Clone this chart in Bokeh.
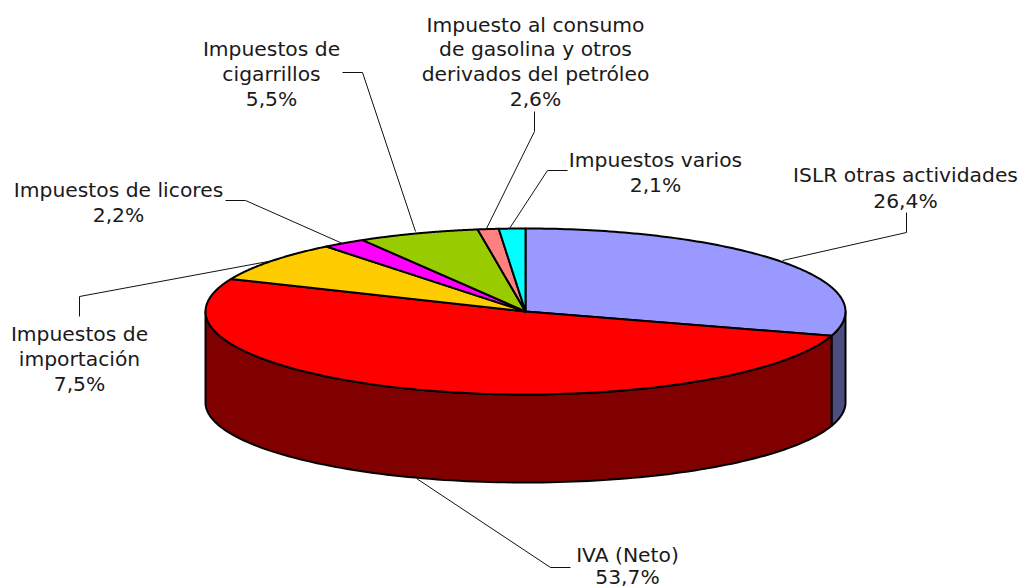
import numpy as np
from bokeh.plotting import figure
from bokeh.models import Range1d
from bokeh.core.properties import value
from bokeh.embed import file_html
from bokeh.resources import INLINE

names = ["ISLR otras actividades", "IVA (Neto)", "Impuestos de importación", "Impuestos de licores",
         "Impuestos de cigarrillos", "Impuesto al consumo de gasolina y otros derivados del petróleo",
         "Impuestos varios"]
shares = [26.4, 53.7, 7.5, 2.2, 5.5, 2.6, 2.1]
top_colors = ["#9999FF", "#FF0000", "#FFCC00", "#FF00FF", "#99CC00", "#FF8080", "#00FFFF"]
side_colors = ["#4D4D80", "#800000", "#806600", "#800080", "#4D6600", "#804040", "#008080"]

label_lines = [
    (["ISLR otras actividades", "26,4%"], 905, [174, 200]),
    (["IVA (Neto)", "53,7%"], 627, [554, 576]),
    (["Impuestos de", "importación", "7,5%"], 79, [333, 358, 383]),
    (["Impuestos de licores", "2,2%"], 118, [189, 214]),
    (["Impuestos de", "cigarrillos", "5,5%"], 271, [48, 73, 98]),
    (["Impuesto al consumo", "de gasolina y otros", "derivados del petróleo", "2,6%"], 535, [24, 48, 73, 98]),
    (["Impuestos varios", "2,1%"], 655, [159, 184]),
]
leaders = [
    ([906, 906, 782], [212, 232, 260]),
    ([416, 550, 570], [478, 567, 567]),
    ([79, 79, 273], [316, 296, 260]),
    ([225, 245, 342], [200, 200, 243]),
    ([342, 362, 415], [72, 72, 231]),
    ([534, 534, 486], [111, 131, 228]),
    ([567, 547, 509], [170, 170, 228]),
]

# 3-D projection of the pie
CX, CY, RX, RY = 525, 311, 320, 83
BOT_CY, BOT_RY = 402, 80
# projection of the cumulative share (%) onto the drawn ellipse angle (deg)
proj_pct = [0, 26.4, 80.1, 87.6, 89.8, 95.3, 97.9, 100]
proj_deg = [0, 107, 293, 321.5, 329.4, 351.4, 355.2, 360]


def ang(share):
    return np.interp(share, proj_pct, proj_deg)


def top_pt(t):
    r = np.radians(t)
    return CX + RX * np.sin(r), CY - RY * np.cos(r)


def bot_pt(t):
    r = np.radians(t)
    return CX + RX * np.sin(r), BOT_CY - BOT_RY * np.cos(r)


p = figure(width=1022, height=588, x_range=Range1d(0, 1022), y_range=Range1d(588, 0),
           output_backend="svg", toolbar_location=None, min_border=0,
           x_axis_location=None, y_axis_location=None, outline_line_color=None,
           background_fill_color="white", border_fill_color="white")
p.grid.visible = False

cum = np.concatenate([[0], np.cumsum(shares)])
starts, ends = ang(cum[:-1]), ang(cum[1:])

# side walls (only the front half, 90..270 deg, is visible)
for a, b, c in zip(starts, ends, side_colors):
    lo, hi = max(a, 90), min(b, 270)
    if hi <= lo:
        continue
    t = np.linspace(lo, hi, 120)
    xt, yt = top_pt(t)
    xb, yb = bot_pt(t)
    p.patch(np.concatenate([xt, xb[::-1]]), np.concatenate([yt, yb[::-1]]),
            fill_color=c, line_color="black", line_width=2, line_join="round")

# top face
for a, b, c in zip(starts, ends, top_colors):
    t = np.linspace(a, b, 120)
    xt, yt = top_pt(t)
    p.patch(np.concatenate([[CX], xt]), np.concatenate([[CY], yt]),
            fill_color=c, line_color="black", line_width=2, line_join="round")

# leader lines
for xs, ys in leaders:
    p.line(xs, ys, line_color="#111111", line_width=1)

# labels
for lines, x, ys in label_lines:
    p.text([x] * len(lines), ys, text=lines, text_align="center", text_baseline="middle",
           text_font=value("DejaVu Sans"), text_font_size="20.3px", text_color="#1a1a1a")

open("out.html", "w").write(file_html(p, INLINE))
